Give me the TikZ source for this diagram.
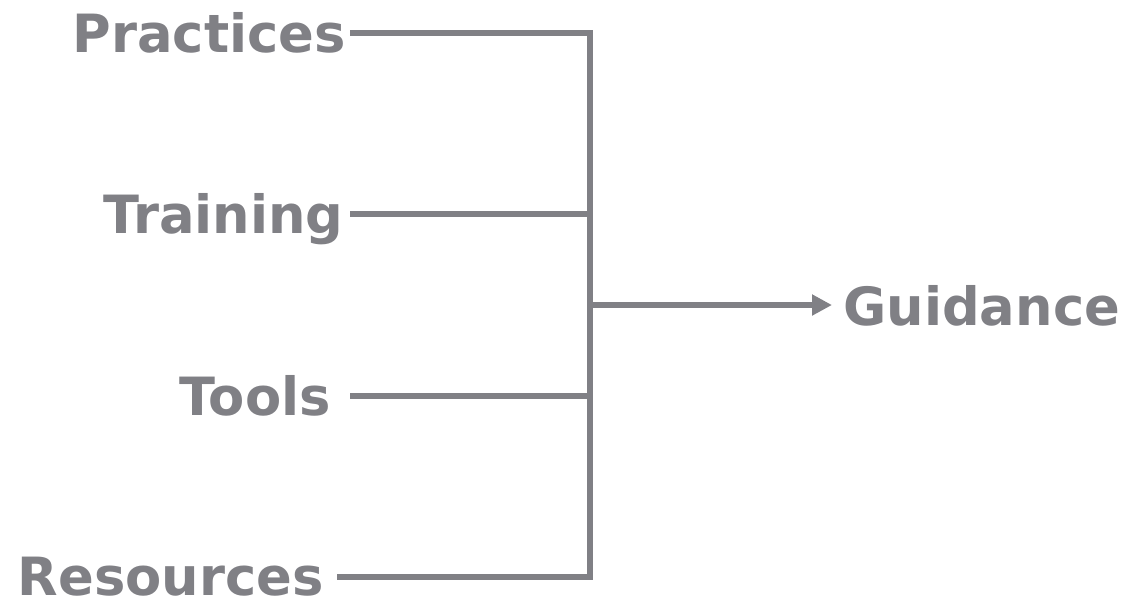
\documentclass[tikz,border=0pt]{standalone}
\usepackage{fontspec}
\setmainfont{DejaVu Sans}
\usetikzlibrary{arrows.meta}
\definecolor{ink}{RGB}{128,128,133}
\begin{document}
\begin{tikzpicture}[x=0.02cm,y=-0.02cm,
  lbl/.style={inner sep=0pt,text height=21.9pt,text depth=0pt,text=ink,font=\fontsize{30}{36}\selectfont\bfseries},
  conn/.style={draw=ink,line width=0.12cm},
  arr/.style={conn,-{Triangle[length=0.4cm,width=0.4cm]}}]
\useasboundingbox (0,0) rectangle (1124,600);
% labels
\node[lbl,anchor=east] (P) at (346,33) {Practices};
\node[lbl,anchor=east] (T) at (344,214) {Training};
\node[lbl,anchor=east] (O) at (331,396) {Tools};
\node[lbl,anchor=east] (R) at (324,576) {Resources};
\node[lbl,anchor=west] (G) at (843,306) {Guidance};
% connector points
\coordinate (p0) at (350,33);
\coordinate (t0) at (350,214);
\coordinate (o0) at (350,396);
\coordinate (r0) at (337,577);
\coordinate (vp) at (590,33);
\coordinate (vt) at (590,214);
\coordinate (vo) at (590,396);
\coordinate (vr) at (590,577);
\coordinate (vg) at (590,305);
\coordinate (ge) at (832,305);
% connectors
\draw[conn] (p0) -- (vp) -- (vr) -- (r0);
\draw[conn] (t0) -- (vt);
\draw[conn] (o0) -- (vo);
\draw[arr] (vg) -- (ge);
\end{tikzpicture}
\end{document}
